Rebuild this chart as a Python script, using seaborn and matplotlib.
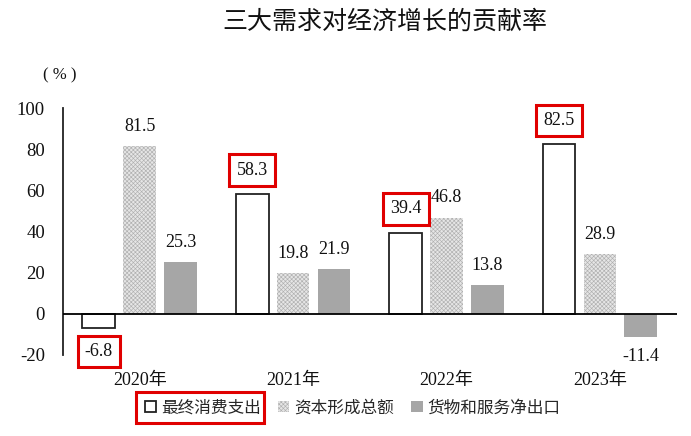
import matplotlib
matplotlib.use('Agg')
import matplotlib.pyplot as plt
import seaborn as sns
import pandas as pd
from matplotlib.patches import Rectangle
from matplotlib.transforms import Bbox

# ---- data ----
years = ['2020年', '2021年', '2022年', '2023年']
series = ['最终消费支出', '资本形成总额', '货物和服务净出口']
consumption = [-6.8, 58.3, 39.4, 82.5]
capital = [81.5, 19.8, 46.8, 28.9]
net_export = [25.3, 21.9, 13.8, -11.4]
title = '三大需求对经济增长的贡献率'
unit_label = '( % )'
yticks = [-20, 0, 20, 40, 60, 80, 100]
highlight_series = '最终消费支出'

values_by_series = [consumption, capital, net_export]
df = pd.DataFrame({
    'year': years * len(series),
    'series': [s for s in series for _ in years],
    'value': consumption + capital + net_export,
})

sns.set_theme(style='white')
serif = ['Liberation Serif', 'Noto Sans CJK SC']
cjk = ['Noto Sans CJK SC', 'DejaVu Sans']
plt.rcParams['font.family'] = serif
plt.rcParams['hatch.linewidth'] = 0.45

fig = plt.figure(figsize=(6.91, 4.36), dpi=100)
ax = fig.add_axes([0.0912, 0.186, 0.888, 0.566])

sns.barplot(data=df, x='year', y='value', hue='series', order=years,
            hue_order=series, width=0.8, gap=0.2, ax=ax, legend=False,
            saturation=1, errorbar=None)

styles = [
    dict(facecolor='white', edgecolor='#222222', linewidth=1.3, hatch=None),
    dict(facecolor='#e6e6e6', edgecolor='#b0b0b0', linewidth=0, hatch='xxxxxxxx'),
    dict(facecolor='#a6a6a6', edgecolor='#a6a6a6', linewidth=0, hatch=None),
]
for cont, st in zip(ax.containers, styles):
    for bar in cont:
        bar.set_facecolor(st['facecolor'])
        bar.set_edgecolor(st['edgecolor'])
        bar.set_linewidth(st['linewidth'])
        if st['hatch']:
            bar.set_hatch(st['hatch'])

ax.set_ylim(-20, 100)
ax.set_xlim(-0.5, 3.5)
ax.set_yticks(yticks)
ax.set_yticklabels([str(t) for t in yticks])
ax.axhline(0, color='black', lw=1.3, zorder=5)
for sp in ['top', 'right', 'bottom']:
    ax.spines[sp].set_visible(False)
ax.spines['left'].set_color('#222222')
ax.spines['left'].set_linewidth(1.3)
ax.tick_params(axis='y', length=0, pad=13, labelsize=13.5, colors='#111111')
ax.tick_params(axis='x', length=0, pad=12, labelsize=13, colors='#111111')
ax.set_xlabel('')
ax.set_ylabel('')
ax.grid(False)

# value labels
for s, cont, vals in zip(series, ax.containers, values_by_series):
    for bar, v in zip(cont, vals):
        x = bar.get_x() + bar.get_width() / 2
        kw = {}
        off = 8
        if s == highlight_series:
            kw['bbox'] = dict(boxstyle='square,pad=0.4', facecolor='none',
                              edgecolor='#e00000', linewidth=2.2)
            off = 11
        ax.annotate(f'{v:.1f}', (x, v), xytext=(0, off if v >= 0 else -off),
                    textcoords='offset points', ha='center',
                    va='bottom' if v >= 0 else 'top', fontsize=13,
                    color='#111111', **kw)

leg = ax.legend(handles=list(ax.containers), labels=series, loc='center',
                bbox_to_anchor=(0.472, -0.215), ncol=3, frameon=False,
                prop={'family': cjk, 'size': 12}, handlelength=0.7,
                handleheight=0.7, handletextpad=0.3, columnspacing=1.0)

fig.text(0.557, 0.95, title, ha='center', va='center', family=cjk,
         fontsize=18, weight='normal', color='#111111')
fig.text(0.087, 0.828, unit_label, ha='center', va='center', fontsize=12,
         color='#111111')

# red box around first legend entry
fig.canvas.draw()
r = fig.canvas.get_renderer()
hb = leg.legend_handles[0].get_window_extent(r)
tb = leg.get_texts()[0].get_window_extent(r)
u = Bbox.union([hb, tb])
u = Bbox.from_extents(u.x0 - 9, u.y0 - 7, u.x1 + 3, u.y1 + 7)
ub = u.transformed(fig.transFigure.inverted())
fig.patches.append(Rectangle((ub.x0, ub.y0), ub.width, ub.height,
                             transform=fig.transFigure, fill=False,
                             edgecolor='#e00000', linewidth=2.2))

fig.savefig('out.png', dpi=100)
